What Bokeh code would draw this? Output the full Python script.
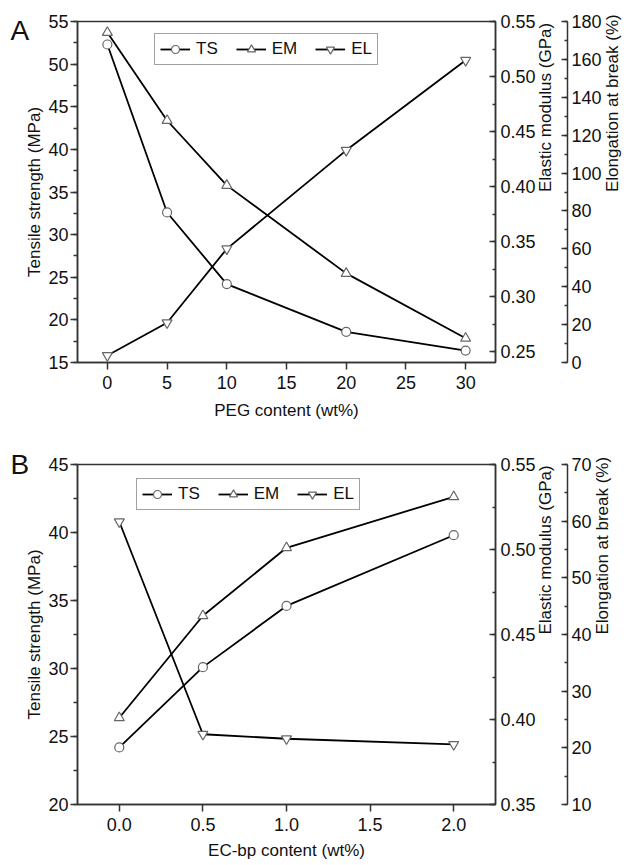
import math
from bokeh.plotting import figure
from bokeh.layouts import column
from bokeh.models import (Range1d, LinearAxis, SingleIntervalTicker, NumeralTickFormatter,
                          Legend, LegendItem, Label)
from bokeh.embed import file_html
from bokeh.resources import INLINE

# ---- data: panel A (PEG content) ----
peg = [0, 5, 10, 20, 30]
ts_a = [52.3, 32.6, 24.2, 18.6, 16.4]
em_a = [0.540, 0.460, 0.401, 0.321, 0.262]
el_a = [3.7, 21.0, 60.0, 112.0, 159.5]

# ---- data: panel B (EC-bp content) ----
ecbp = [0.0, 0.5, 1.0, 2.0]
ts_b = [24.2, 30.1, 34.6, 39.8]
em_b = [0.401, 0.461, 0.501, 0.531]
el_b = [59.9, 22.4, 21.6, 20.6]

FONT = "Liberation Sans"
TICK_FS = "18px"
LAB_FS = "17px"
AX_COL = "#333333"
MK_COL = "#666666"
WIDTH = 634


def style_axis(ax, side):
    ax.axis_line_color = AX_COL
    ax.axis_line_width = 1.5
    ax.major_tick_line_color = AX_COL
    ax.major_tick_line_width = 1.5
    ax.minor_tick_line_color = AX_COL
    ax.minor_tick_line_width = 1.5
    ax.major_label_text_font = FONT
    ax.major_label_text_font_size = TICK_FS
    ax.major_label_text_color = "#111111"
    ax.axis_label_text_font = FONT
    ax.axis_label_text_font_size = LAB_FS
    ax.axis_label_text_font_style = "normal"
    ax.axis_label_text_color = "#111111"
    if side in ("left", "below"):
        ax.major_tick_out = 7
        ax.major_tick_in = 0
        ax.minor_tick_out = 4
        ax.minor_tick_in = 0
    else:
        ax.major_tick_out = 0
        ax.major_tick_in = 6
        ax.minor_tick_out = 0
        ax.minor_tick_in = 3
        ax.axis_label_orientation = math.pi / 2


def make_panel(x, ts, em, el, xr, yr, emr, elr, xtick, ytick, emtick, eltick,
               xfmt, xlabel, letter, height, borders, legend_loc, letter_y,
               xlab_standoff):
    bl, bt, br, bb = borders
    p = figure(width=WIDTH, height=height, x_range=Range1d(*xr), y_range=Range1d(*yr),
               output_backend="svg", toolbar_location=None,
               min_border_left=bl, min_border_top=bt, min_border_right=br, min_border_bottom=bb)
    p.extra_y_ranges = {"em": Range1d(*emr), "el": Range1d(*elr)}
    p.xgrid.visible = False
    p.ygrid.visible = False
    p.outline_line_color = AX_COL
    p.outline_line_width = 1.5
    p.background_fill_color = "white"

    p.xaxis.ticker = SingleIntervalTicker(interval=xtick, num_minor_ticks=0)
    if xfmt:
        p.xaxis.formatter = NumeralTickFormatter(format=xfmt)
    p.xaxis.axis_label = xlabel
    style_axis(p.xaxis[0], "below")
    p.xaxis.major_label_standoff = 6
    p.xaxis.axis_label_standoff = xlab_standoff

    p.yaxis.ticker = SingleIntervalTicker(interval=ytick, num_minor_ticks=2)
    p.yaxis.axis_label = "Tensile strength (MPa)"
    style_axis(p.yaxis[0], "left")
    p.yaxis.major_label_standoff = 2
    p.yaxis.axis_label_standoff = 1

    ax_em = LinearAxis(y_range_name="em", axis_label="Elastic modulus (GPa)",
                       ticker=SingleIntervalTicker(interval=emtick, num_minor_ticks=2),
                       formatter=NumeralTickFormatter(format="0.00"))
    style_axis(ax_em, "right")
    ax_em.major_label_standoff = 5
    ax_em.axis_label_standoff = 7
    p.add_layout(ax_em, "right")

    ax_el = LinearAxis(y_range_name="el", axis_label="Elongation at break (%)",
                       ticker=SingleIntervalTicker(interval=eltick, num_minor_ticks=2))
    style_axis(ax_el, "right")
    ax_el.major_label_standoff = 4
    ax_el.axis_label_standoff = 8
    p.add_layout(ax_el, "right")

    lw = 1.8
    r_ts_l = p.line(x, ts, line_color="black", line_width=lw)
    r_em_l = p.line(x, em, line_color="black", line_width=lw, y_range_name="em")
    r_el_l = p.line(x, el, line_color="black", line_width=lw, y_range_name="el")
    r_ts_m = p.scatter(x, ts, marker="circle", size=9, fill_color="white",
                       line_color=MK_COL, line_width=1.2)
    r_em_m = p.scatter(x, em, marker="triangle", size=10, fill_color="white",
                       line_color=MK_COL, line_width=1.2, y_range_name="em")
    r_el_m = p.scatter(x, el, marker="inverted_triangle", size=10, fill_color="white",
                       line_color=MK_COL, line_width=1.2, y_range_name="el")

    legend = Legend(items=[
        LegendItem(label="TS", renderers=[r_ts_l, r_ts_m]),
        LegendItem(label="EM", renderers=[r_em_l, r_em_m]),
        LegendItem(label="EL", renderers=[r_el_l, r_el_m]),
    ], orientation="horizontal", location=legend_loc)
    legend.border_line_color = "#444444"
    legend.border_line_width = 1
    legend.background_fill_alpha = 1.0
    legend.padding = 5
    legend.margin = 0
    legend.spacing = 18
    legend.glyph_width = 30
    legend.glyph_height = 20
    legend.label_standoff = 6
    legend.label_text_font = FONT
    legend.label_text_font_size = "17px"
    legend.label_text_color = "#111111"
    p.add_layout(legend, "center")

    # panel letter in the left side panel (screen units)
    lab = Label(x=7, y=letter_y, x_units="screen", y_units="screen",
                text=letter, text_font=FONT, text_font_size="28px",
                text_baseline="alphabetic", text_color="#111111")
    p.add_layout(lab, "left")
    return p


pa = make_panel(peg, ts_a, em_a, el_a, (-2.5, 32.5), (15, 55), (0.24, 0.55), (0, 180),
                5, 5, 0.05, 20, None, "PEG content (wt%)", "A", 428,
                (77, 21, 137, 66), (77, 297), 332, 9)
pb = make_panel(ecbp, ts_b, em_b, el_b, (-0.25, 2.25), (20, 45), (0.35, 0.55), (10, 70),
                0.5, 5, 0.05, 10, "0.0", "EC-bp content (wt%)", "B", 437,
                (72, 36, 137, 61), (59, 294), 340, 7)

layout = column(pa, pb)
open("out.html", "w").write(file_html(layout, INLINE))
